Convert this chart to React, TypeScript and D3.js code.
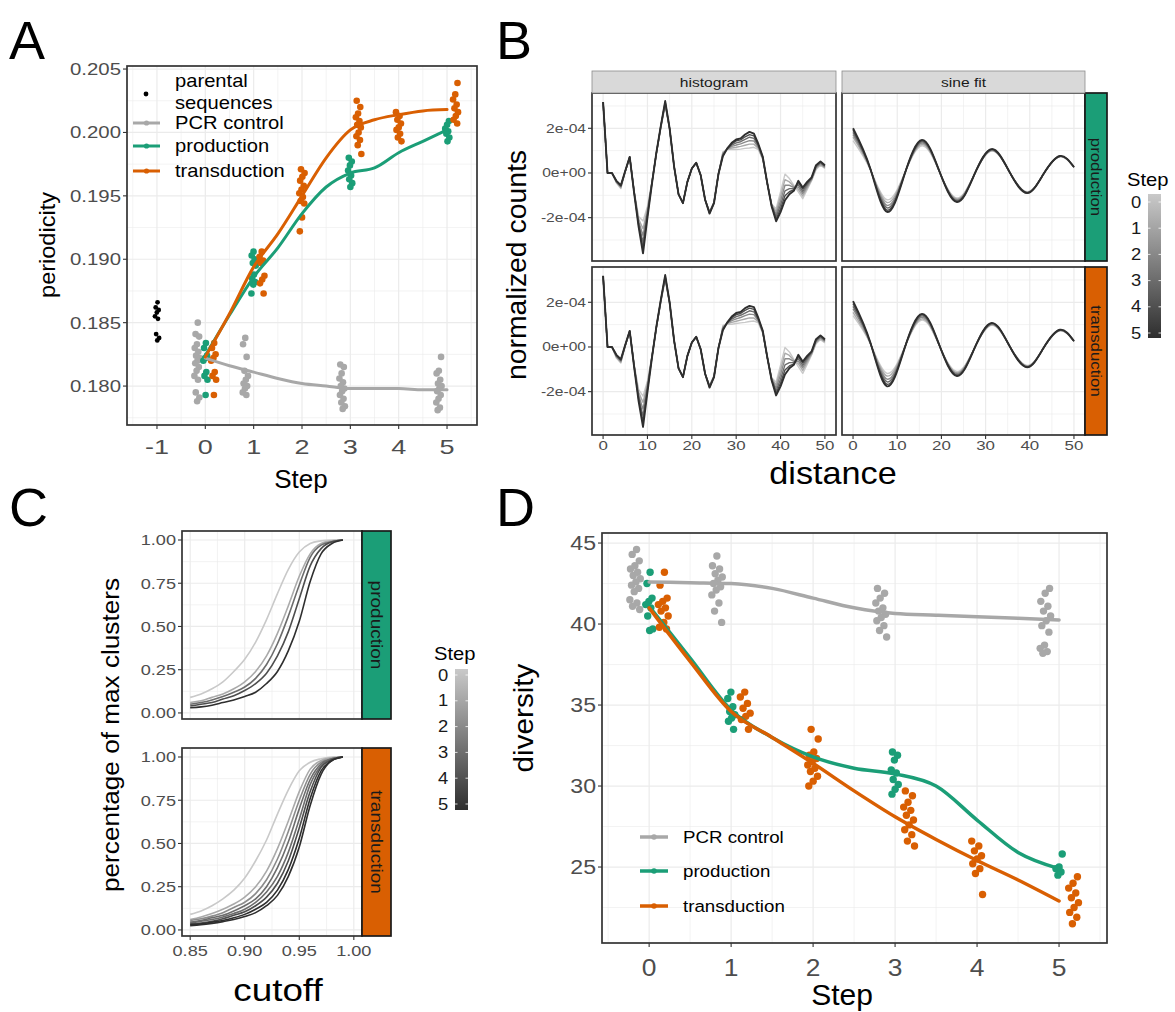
import React, { useEffect, useRef } from "react";
import * as d3 from "d3";

const FONT = "'Liberation Sans', Arial, Helvetica, sans-serif";
const GREEN = "#1b9e77";
const ORANGE = "#d95f02";
const GRAY = "#a8a8a8";
const INK = "#333333";
const TICK = "#4d4d4d";
const GRID = "#ebebeb";

// ---------- A: periodicity ----------
const fitSteps = [0, 0.5, 1, 1.5, 2, 2.5, 3, 3.5, 4, 4.5, 5];
const parentalPeriodicity = [0.1866, 0.1862, 0.186, 0.1858, 0.1855, 0.1853, 0.1841, 0.1838, 0.1836];
const pcrPeriodicity = [
  [0.185, 0.1841, 0.1839, 0.1833, 0.183, 0.1827, 0.1824, 0.1822, 0.182, 0.1818, 0.1815, 0.1812, 0.1808, 0.1805, 0.1795, 0.1791, 0.1788],
  [0.1838, 0.1833, 0.1823, 0.1812, 0.1808, 0.1805, 0.1802, 0.18, 0.1798, 0.1795, 0.1793],
  [],
  [0.1817, 0.1815, 0.181, 0.1806, 0.1803, 0.18, 0.1798, 0.1796, 0.1793, 0.179, 0.1787, 0.1784, 0.1782],
  [],
  [0.1823, 0.1812, 0.181, 0.1805, 0.1802, 0.18, 0.1798, 0.1796, 0.1793, 0.179, 0.1787, 0.1783, 0.1781],
];
const productionPeriodicity = [
  [0.1834, 0.183, 0.1824, 0.1822, 0.182, 0.1811, 0.1808, 0.1805, 0.1793],
  [0.1906, 0.1903, 0.19, 0.1897, 0.1895, 0.1888, 0.1885, 0.1882, 0.188, 0.1873],
  [],
  [0.198, 0.1977, 0.1974, 0.197, 0.1966, 0.1963, 0.196, 0.1957],
  [],
  [0.2009, 0.2006, 0.2003, 0.2001, 0.1999, 0.1996, 0.1993],
];
const transductionPeriodicity = [
  [0.1834, 0.183, 0.1825, 0.1822, 0.182, 0.1811, 0.1808, 0.1805, 0.1793],
  [0.1906, 0.1902, 0.1899, 0.1897, 0.1887, 0.1884, 0.1881, 0.1873],
  [0.1971, 0.1968, 0.1965, 0.1962, 0.1958, 0.1955, 0.1952, 0.1949, 0.1946, 0.1944, 0.1933, 0.1922],
  [0.2025, 0.202, 0.2015, 0.2012, 0.2009, 0.2006, 0.2004, 0.2, 0.1997, 0.1994, 0.199, 0.1983],
  [0.2016, 0.2013, 0.201, 0.2007, 0.2004, 0.2002, 0.1999, 0.1996, 0.1993],
  [0.2039, 0.203, 0.2026, 0.2022, 0.2019, 0.2016, 0.2013, 0.201, 0.2007],
];
const pcrPeriodicityFit = [0.1822, 0.1816, 0.1811, 0.1806, 0.1802, 0.18, 0.1798, 0.1798, 0.1798, 0.1797, 0.1797];
const productionPeriodicityFit = [0.1824, 0.1856, 0.1886, 0.1909, 0.1936, 0.1957, 0.1968, 0.1972, 0.1984, 0.1993, 0.2002];
const transductionPeriodicityFit = [0.1823, 0.1857, 0.1894, 0.192, 0.195, 0.198, 0.2002, 0.201, 0.2014, 0.2017, 0.2018];

// ---------- B: normalized counts (units of 1e-4) ----------
const histogramProduction = [
  [3.18, 0, 0, -0.45, -0.7, 0.05, 0.7, -0.8, -1.95, -2.15, -1.5, -0.4, 0.85, 2.0, 3.02, 1.95, 0.3, -0.95, -1.35, -0.4, 0.2, 0.46, -0.1, -1.2, -1.72, -1.3, -0.05, 0.95, 1.05, 1.05, 1.05, 1.07, 1.1, 1.12, 1.15, 1.05, 0.6, -0.45, -1.4, -1.6, -0.85, -0.05, -0.25, -0.55, -0.85, -1.15, -0.75, -0.35, 0.15, 0.35, 0.2],
  [3.18, 0, 0, -0.42, -0.66, 0.06, 0.7, -0.82, -2.05, -2.5, -1.6, -0.42, 0.86, 2.02, 3.06, 1.96, 0.3, -0.95, -1.35, -0.4, 0.2, 0.46, -0.1, -1.2, -1.74, -1.31, -0.05, 0.9, 1.06, 1.12, 1.15, 1.19, 1.24, 1.29, 1.29, 1.1, 0.62, -0.45, -1.42, -1.72, -1.05, -0.3, -0.4, -0.6, -0.73, -1.03, -0.67, -0.31, 0.2, 0.39, 0.23],
  [3.18, 0, 0, -0.4, -0.62, 0.07, 0.71, -0.84, -2.15, -2.8, -1.7, -0.44, 0.87, 2.05, 3.1, 1.97, 0.3, -0.95, -1.35, -0.4, 0.2, 0.46, -0.1, -1.2, -1.76, -1.32, -0.05, 0.86, 1.08, 1.19, 1.25, 1.3, 1.38, 1.45, 1.43, 1.15, 0.65, -0.45, -1.44, -1.84, -1.25, -0.55, -0.55, -0.65, -0.62, -0.92, -0.6, -0.28, 0.24, 0.43, 0.26],
  [3.18, 0, 0, -0.38, -0.6, 0.08, 0.71, -0.86, -2.25, -3.1, -1.8, -0.46, 0.88, 2.07, 3.14, 1.98, 0.3, -0.95, -1.35, -0.4, 0.2, 0.46, -0.1, -1.2, -1.78, -1.33, -0.05, 0.82, 1.09, 1.25, 1.35, 1.4, 1.5, 1.6, 1.55, 1.2, 0.68, -0.45, -1.46, -1.95, -1.43, -0.8, -0.7, -0.7, -0.52, -0.82, -0.52, -0.25, 0.28, 0.46, 0.29],
  [3.18, 0, 0, -0.36, -0.57, 0.09, 0.72, -0.88, -2.32, -3.35, -1.9, -0.48, 0.89, 2.09, 3.18, 1.99, 0.3, -0.95, -1.35, -0.4, 0.2, 0.46, -0.1, -1.2, -1.8, -1.34, -0.05, 0.78, 1.1, 1.3, 1.44, 1.48, 1.62, 1.72, 1.66, 1.25, 0.7, -0.45, -1.48, -2.06, -1.6, -1.02, -0.84, -0.75, -0.42, -0.72, -0.46, -0.22, 0.32, 0.49, 0.32],
  [3.18, 0, 0, -0.35, -0.55, 0.1, 0.72, -0.9, -2.4, -3.6, -2.0, -0.5, 0.9, 2.1, 3.22, 2.0, 0.3, -0.95, -1.35, -0.4, 0.2, 0.46, -0.1, -1.2, -1.82, -1.35, -0.05, 0.75, 1.1, 1.35, 1.5, 1.55, 1.72, 1.84, 1.76, 1.3, 0.72, -0.45, -1.5, -2.16, -1.75, -1.22, -0.95, -0.8, -0.35, -0.65, -0.4, -0.2, 0.35, 0.52, 0.35],
];
const histogramTransduction = [
  [3.15, 0, 0, -0.5, -0.72, 0.04, 0.68, -0.78, -1.9, -2.2, -1.52, -0.42, 0.83, 1.98, 3.0, 1.93, 0.28, -0.95, -1.33, -0.42, 0.18, 0.44, -0.12, -1.22, -1.7, -1.28, -0.06, 0.96, 1.02, 1.02, 1.05, 1.08, 1.1, 1.14, 1.16, 1.08, 0.62, -0.44, -1.38, -1.58, -0.82, -0.02, -0.22, -0.55, -0.88, -1.18, -0.78, -0.36, 0.14, 0.33, 0.18],
  [3.16, 0, 0, -0.46, -0.68, 0.05, 0.69, -0.81, -2.02, -2.48, -1.62, -0.43, 0.85, 2.01, 3.05, 1.95, 0.29, -0.95, -1.34, -0.41, 0.19, 0.45, -0.11, -1.21, -1.73, -1.3, -0.05, 0.9, 1.05, 1.1, 1.15, 1.2, 1.25, 1.3, 1.3, 1.12, 0.63, -0.45, -1.41, -1.7, -1.03, -0.28, -0.38, -0.6, -0.75, -1.05, -0.68, -0.32, 0.19, 0.38, 0.22],
  [3.17, 0, 0, -0.43, -0.64, 0.06, 0.7, -0.84, -2.14, -2.78, -1.72, -0.45, 0.86, 2.04, 3.09, 1.96, 0.3, -0.95, -1.35, -0.4, 0.2, 0.46, -0.1, -1.2, -1.76, -1.32, -0.05, 0.86, 1.07, 1.18, 1.26, 1.32, 1.4, 1.47, 1.45, 1.17, 0.66, -0.45, -1.43, -1.83, -1.24, -0.53, -0.53, -0.64, -0.63, -0.93, -0.6, -0.28, 0.24, 0.42, 0.26],
  [3.18, 0, 0, -0.4, -0.61, 0.08, 0.71, -0.86, -2.24, -3.08, -1.82, -0.47, 0.88, 2.07, 3.13, 1.98, 0.3, -0.95, -1.35, -0.4, 0.2, 0.46, -0.1, -1.2, -1.78, -1.33, -0.05, 0.82, 1.09, 1.25, 1.36, 1.42, 1.52, 1.62, 1.57, 1.21, 0.68, -0.45, -1.46, -1.96, -1.44, -0.8, -0.7, -0.7, -0.52, -0.82, -0.52, -0.25, 0.28, 0.46, 0.29],
  [3.18, 0, 0, -0.37, -0.58, 0.09, 0.72, -0.88, -2.32, -3.34, -1.92, -0.49, 0.89, 2.09, 3.18, 1.99, 0.3, -0.95, -1.35, -0.4, 0.2, 0.46, -0.1, -1.2, -1.8, -1.34, -0.05, 0.78, 1.1, 1.31, 1.45, 1.5, 1.64, 1.74, 1.68, 1.26, 0.7, -0.45, -1.48, -2.07, -1.61, -1.03, -0.85, -0.76, -0.42, -0.72, -0.46, -0.22, 0.32, 0.49, 0.32],
  [3.19, 0, 0, -0.35, -0.55, 0.1, 0.72, -0.9, -2.42, -3.58, -2.02, -0.5, 0.9, 2.1, 3.22, 2.0, 0.3, -0.95, -1.35, -0.4, 0.2, 0.46, -0.1, -1.2, -1.82, -1.35, -0.05, 0.75, 1.1, 1.36, 1.52, 1.57, 1.74, 1.84, 1.78, 1.3, 0.72, -0.45, -1.5, -2.17, -1.76, -1.23, -0.95, -0.8, -0.35, -0.65, -0.4, -0.2, 0.35, 0.52, 0.35],
];
const sineKnots = [0, 3.9, 7.7, 11.6, 15.6, 19.5, 23.5, 27.4, 31.4, 35.4, 39.4, 43.1, 46.8, 50];
const sineProduction = [
  [1.45, 0.15, -1.2, -0.05, 1.22, 0.08, -1.12, -0.08, 0.98, 0.05, -0.84, -0.05, 0.72, 0.24],
  [1.6, 0.17, -1.32, -0.06, 1.28, 0.08, -1.16, -0.08, 1.0, 0.05, -0.86, -0.05, 0.73, 0.25],
  [1.72, 0.18, -1.45, -0.07, 1.34, 0.09, -1.2, -0.09, 1.02, 0.05, -0.87, -0.05, 0.74, 0.25],
  [1.82, 0.19, -1.56, -0.08, 1.4, 0.09, -1.24, -0.09, 1.04, 0.05, -0.88, -0.05, 0.75, 0.26],
  [1.92, 0.2, -1.66, -0.09, 1.44, 0.1, -1.27, -0.1, 1.06, 0.05, -0.89, -0.05, 0.75, 0.26],
  [2.0, 0.2, -1.74, -0.1, 1.48, 0.1, -1.3, -0.1, 1.07, 0.05, -0.9, -0.05, 0.76, 0.27],
];
const sineTransduction = [
  [1.4, 0.15, -1.18, -0.05, 1.2, 0.08, -1.1, -0.08, 0.97, 0.05, -0.83, -0.05, 0.72, 0.24],
  [1.55, 0.16, -1.3, -0.06, 1.26, 0.08, -1.15, -0.08, 0.99, 0.05, -0.85, -0.05, 0.73, 0.25],
  [1.7, 0.18, -1.44, -0.07, 1.33, 0.09, -1.19, -0.09, 1.02, 0.05, -0.87, -0.05, 0.74, 0.25],
  [1.82, 0.19, -1.56, -0.08, 1.39, 0.09, -1.23, -0.09, 1.04, 0.05, -0.88, -0.05, 0.75, 0.26],
  [1.94, 0.2, -1.67, -0.09, 1.44, 0.1, -1.27, -0.1, 1.06, 0.05, -0.9, -0.05, 0.76, 0.26],
  [2.05, 0.21, -1.76, -0.1, 1.48, 0.1, -1.3, -0.1, 1.08, 0.05, -0.91, -0.05, 0.77, 0.27],
];

// ---------- C: percentage of max clusters ----------
const cutoffs = [0.85, 0.86, 0.87, 0.88, 0.89, 0.9, 0.91, 0.92, 0.93, 0.94, 0.95, 0.96, 0.97, 0.98, 0.99];
const clusterProductionSteps = [0, 1, 3, 4, 5];
const clusterProduction = [
  [0.09, 0.11, 0.14, 0.18, 0.24, 0.31, 0.41, 0.54, 0.69, 0.83, 0.93, 0.98, 0.995, 1.0, 1.0],
  [0.06, 0.07, 0.09, 0.11, 0.14, 0.18, 0.24, 0.33, 0.46, 0.62, 0.79, 0.92, 0.98, 0.995, 1.0],
  [0.05, 0.06, 0.075, 0.095, 0.12, 0.15, 0.2, 0.28, 0.4, 0.56, 0.74, 0.9, 0.97, 0.99, 1.0],
  [0.04, 0.05, 0.06, 0.08, 0.1, 0.13, 0.17, 0.23, 0.33, 0.47, 0.66, 0.85, 0.95, 0.99, 1.0],
  [0.03, 0.035, 0.045, 0.06, 0.075, 0.095, 0.12, 0.17, 0.24, 0.36, 0.53, 0.76, 0.92, 0.98, 1.0],
];
const clusterTransductionSteps = [0, 1, 2, 3, 3, 4, 5, 5];
const clusterTransduction = [
  [0.09, 0.11, 0.14, 0.18, 0.23, 0.3, 0.4, 0.52, 0.67, 0.81, 0.92, 0.97, 0.99, 1.0, 1.0],
  [0.06, 0.075, 0.095, 0.12, 0.15, 0.19, 0.25, 0.34, 0.47, 0.63, 0.8, 0.93, 0.98, 0.995, 1.0],
  [0.055, 0.065, 0.08, 0.1, 0.13, 0.16, 0.21, 0.29, 0.41, 0.57, 0.75, 0.9, 0.97, 0.99, 1.0],
  [0.045, 0.055, 0.07, 0.085, 0.11, 0.14, 0.18, 0.25, 0.36, 0.51, 0.7, 0.87, 0.96, 0.99, 1.0],
  [0.04, 0.05, 0.06, 0.075, 0.095, 0.12, 0.16, 0.22, 0.31, 0.45, 0.64, 0.84, 0.95, 0.99, 1.0],
  [0.035, 0.04, 0.05, 0.065, 0.085, 0.105, 0.14, 0.19, 0.27, 0.4, 0.59, 0.8, 0.94, 0.985, 1.0],
  [0.03, 0.035, 0.045, 0.055, 0.07, 0.09, 0.12, 0.16, 0.23, 0.35, 0.53, 0.76, 0.92, 0.98, 1.0],
  [0.025, 0.03, 0.038, 0.048, 0.06, 0.078, 0.1, 0.14, 0.2, 0.31, 0.48, 0.72, 0.9, 0.98, 1.0],
];

// ---------- D: diversity ----------
const pcrDiversity = [
  [44.6, 44.3, 43.9, 43.6, 43.4, 43.2, 43.0, 42.8, 42.6, 42.4, 42.2, 42.0, 41.5, 41.3, 41.1, 40.9],
  [44.2, 43.6, 43.4, 43.1, 42.9, 42.7, 42.5, 42.3, 42.1, 41.8, 41.3, 40.8, 40.1],
  [],
  [42.2, 41.9, 41.6, 41.3, 41.0, 40.8, 40.6, 40.4, 40.2, 39.9, 39.6, 39.2],
  [],
  [42.2, 41.9, 41.4, 41.1, 40.8, 40.5, 40.2, 39.9, 39.5, 38.7, 38.5, 38.3, 38.2],
];
const productionDiversity = [
  [43.2, 42.5, 41.6, 41.4, 41.2, 41.0, 40.5, 39.7, 39.6],
  [35.8, 35.4, 34.9, 34.6, 34.4, 34.2, 34.0, 33.5],
  [],
  [32.1, 31.9, 31.6, 31.0, 30.8, 30.4, 30.1, 29.8, 29.5],
  [],
  [25.8, 25.0, 24.9, 24.7, 24.5],
];
const transductionDiversity = [
  [43.2, 42.4, 41.6, 41.4, 41.2, 41.0, 40.8, 40.5, 40.1, 39.8, 39.7],
  [35.8, 35.5, 35.1, 34.8, 34.5, 34.3, 34.1, 33.5],
  [33.5, 32.9, 32.1, 31.9, 31.7, 31.5, 31.3, 31.1, 30.9, 30.6, 30.3, 30.0],
  [29.7, 29.4, 29.0, 28.7, 28.5, 28.2, 27.9, 27.6, 27.3, 27.0, 26.6, 26.3],
  [26.6, 26.3, 26.0, 25.7, 25.5, 25.2, 24.9, 24.6, 23.3],
  [24.4, 24.0, 23.7, 23.4, 23.1, 22.8, 22.5, 22.2, 21.9, 21.5],
];
const pcrDiversityFit = [42.6, 42.55, 42.5, 42.2, 41.6, 41.0, 40.65, 40.55, 40.45, 40.35, 40.25];
const productionDiversityFit = [41.1, 37.9, 34.7, 33.0, 31.8, 31.1, 30.75, 30.0, 27.9, 25.9, 24.9];
const transductionDiversityFit = [41.0, 37.7, 34.6, 33.0, 31.4, 29.7, 28.1, 26.7, 25.4, 24.2, 22.9];

const groupNames = ["PCR control", "production", "transduction"];
const stepLabels = [0, 1, 2, 3, 4, 5];

type G = d3.Selection<any, unknown, null, undefined>;
type L = d3.ScaleLinear<number, number>;

const stepColor = d3.scaleLinear<string>().domain([0, 5]).range(["#c9c9c9", "#2e2e2e"]);
const jitter = (i: number, amp: number) => ((((i + 1) * 0.6180339) % 1) - 0.5) * 2 * amp;

function label(g: G, x: number, y: number, s: string, size: number, o: any = {}) {
  g.append("text")
    .attr("transform", `translate(${x},${y}) rotate(${o.rotate ?? 0}) scale(${o.sx ?? 1},1)`)
    .attr("text-anchor", o.anchor ?? "start")
    .attr("dominant-baseline", o.base ?? "alphabetic")
    .attr("font-size", size)
    .attr("fill", o.fill ?? "#000")
    .text(s);
}

function frame(g: G, x: L, y: L, xMajor: number[], xMinor: number[], yMajor: number[], yMinor: number[]) {
  const [x0, x1] = x.range();
  const [yb, yt] = y.range();
  g.append("rect").attr("x", x0).attr("y", yt).attr("width", x1 - x0).attr("height", yb - yt).attr("fill", "#fff");
  const grid = g.append("g").attr("stroke", GRID);
  xMinor.forEach(v => grid.append("line").attr("x1", x(v)).attr("x2", x(v)).attr("y1", yt).attr("y2", yb).attr("stroke-width", 0.6));
  yMinor.forEach(v => grid.append("line").attr("x1", x0).attr("x2", x1).attr("y1", y(v)).attr("y2", y(v)).attr("stroke-width", 0.6));
  xMajor.forEach(v => grid.append("line").attr("x1", x(v)).attr("x2", x(v)).attr("y1", yt).attr("y2", yb).attr("stroke-width", 1.2));
  yMajor.forEach(v => grid.append("line").attr("x1", x0).attr("x2", x1).attr("y1", y(v)).attr("y2", y(v)).attr("stroke-width", 1.2));
}

function border(g: G, x: L, y: L) {
  const [x0, x1] = x.range();
  const [yb, yt] = y.range();
  g.append("rect").attr("x", x0).attr("y", yt).attr("width", x1 - x0).attr("height", yb - yt)
    .attr("fill", "none").attr("stroke", INK).attr("stroke-width", 1.7);
}

function yAxis(g: G, y: L, x0: number, values: number[], fmt: (v: number) => string, size: number, sx = 1) {
  values.forEach(v => {
    g.append("line").attr("x1", x0 - 4).attr("x2", x0).attr("y1", y(v)).attr("y2", y(v)).attr("stroke", INK).attr("stroke-width", 1.1);
    label(g, x0 - 6, y(v), fmt(v), size, { anchor: "end", base: "central", fill: TICK, sx });
  });
}

function xAxis(g: G, x: L, yb: number, values: number[], fmt: (v: number) => string, size: number, base: number, sx = 1) {
  values.forEach(v => {
    g.append("line").attr("x1", x(v)).attr("x2", x(v)).attr("y1", yb).attr("y2", yb + 4).attr("stroke", INK).attr("stroke-width", 1.1);
    label(g, x(v), base, fmt(v), size, { anchor: "middle", fill: TICK, sx });
  });
}

function dots(g: G, x: L, y: L, values: number[][], offset: (s: number) => number, color: string, r: number, amp: number) {
  values.forEach((vals, step) => {
    vals.forEach((v, i) => {
      g.append("circle").attr("cx", x(step + offset(step) + jitter(i + step * 3, amp))).attr("cy", y(v)).attr("r", r).attr("fill", color);
    });
  });
}

function fitLine(g: G, x: L, y: L, values: number[], color: string, width: number) {
  const line = d3.line<number>().x((_, i) => x(fitSteps[i])).y(v => y(v)).curve(d3.curveMonotoneX);
  g.append("path").attr("d", line(values)).attr("fill", "none").attr("stroke", color).attr("stroke-width", width).attr("stroke-linecap", "round");
}

function colorbar(g: G, id: string, x0: number, top: number, bottom: number, labelX: number, titleX: number, titleY: number, l0: number, l5: number) {
  const grad = g.append("defs").append("linearGradient").attr("id", id).attr("x1", 0).attr("x2", 0).attr("y1", 0).attr("y2", 1);
  grad.append("stop").attr("offset", "0%").attr("stop-color", stepColor(0));
  grad.append("stop").attr("offset", "100%").attr("stop-color", stepColor(5));
  g.append("rect").attr("x", x0).attr("y", top).attr("width", 13).attr("height", bottom - top).attr("fill", `url(#${id})`);
  const ly = d3.scaleLinear().domain([0, 5]).range([l0, l5]);
  stepLabels.forEach(s => {
    g.append("line").attr("x1", x0).attr("x2", x0 + 2.5).attr("y1", ly(s)).attr("y2", ly(s)).attr("stroke", "#fff").attr("stroke-width", 0.8);
    g.append("line").attr("x1", x0 + 10.5).attr("x2", x0 + 13).attr("y1", ly(s)).attr("y2", ly(s)).attr("stroke", "#fff").attr("stroke-width", 0.8);
    label(g, labelX, ly(s), String(s), 16, { anchor: "middle", base: "central", fill: "#1a1a1a", sx: 1.15 });
  });
  label(g, titleX, titleY, "Step", 18, { sx: 1.12 });
}

function drawA(svg: G) {
  const g = svg.append("g");
  const x = d3.scaleLinear().domain([-1.62, 5.62]).range([127, 477]);
  const y = d3.scaleLinear().domain([0.17693, 0.20524]).range([425, 66]);
  frame(g, x, y, [-1, 0, 1, 2, 3, 4, 5], [-1.5, -0.5, 0.5, 1.5, 2.5, 3.5, 4.5, 5.5],
    [0.18, 0.185, 0.19, 0.195, 0.2, 0.205], [0.1775, 0.1825, 0.1875, 0.1925, 0.1975, 0.2025]);
  parentalPeriodicity.forEach((v, i) => g.append("circle").attr("cx", x(-1 + jitter(i, 0.05))).attr("cy", y(v)).attr("r", 2.4).attr("fill", "#000"));
  const prodSteps = productionPeriodicity.map(a => a.length > 0);
  dots(g, x, y, pcrPeriodicity, () => -0.17, GRAY, 3.3, 0.06);
  dots(g, x, y, productionPeriodicity, () => 0, GREEN, 3.3, 0.05);
  dots(g, x, y, transductionPeriodicity, s => (prodSteps[s] ? 0.17 : 0), ORANGE, 3.3, 0.06);
  fitLine(g, x, y, pcrPeriodicityFit, GRAY, 3);
  fitLine(g, x, y, productionPeriodicityFit, GREEN, 3);
  fitLine(g, x, y, transductionPeriodicityFit, ORANGE, 3);
  border(g, x, y);
  yAxis(g, y, 127, [0.18, 0.185, 0.19, 0.195, 0.2, 0.205], d3.format(".3f"), 17, 1.2);
  xAxis(g, x, 425, [-1, 0, 1, 2, 3, 4, 5], d => String(d), 20, 454, 1.35);
  label(g, 47, 245, "periodicity", 22, { anchor: "middle", base: "central", rotate: -90, sx: 1.07 });
  label(g, 301, 488, "Step", 26, { anchor: "middle" });
  // legend
  g.append("circle").attr("cx", 146).attr("cy", 94).attr("r", 2.4).attr("fill", "#000");
  label(g, 175, 81, "parental", 18, { base: "central", sx: 1.12 });
  label(g, 175, 103, "sequences", 18, { base: "central", sx: 1.12 });
  [GRAY, GREEN, ORANGE].forEach((c, i) => {
    const ly = [123, 146, 171][i];
    g.append("line").attr("x1", 133).attr("x2", 160).attr("y1", ly).attr("y2", ly).attr("stroke", c).attr("stroke-width", 3);
    g.append("circle").attr("cx", 146.5).attr("cy", ly).attr("r", 2.6).attr("fill", c);
    label(g, 175, ly, groupNames[i], 18, { base: "central", sx: 1.12 });
  });
  label(g, 9, 59, "A", 54);
}

function drawB(svg: G) {
  const g = svg.append("g");
  const distances = d3.range(51);
  const cols = [
    { name: "histogram", x: d3.scaleLinear().domain([-2.5, 52.5]).range([592, 836]) },
    { name: "sine fit", x: d3.scaleLinear().domain([-2.5, 52.5]).range([842, 1085]) },
  ];
  const rows = [
    { name: "production", color: GREEN, y: d3.scaleLinear().domain([-3.94, 3.58]).range([261, 93]), hist: histogramProduction, sine: sineProduction },
    { name: "transduction", color: ORANGE, y: d3.scaleLinear().domain([-3.94, 3.58]).range([435, 267]), hist: histogramTransduction, sine: sineTransduction },
  ];
  rows.forEach(row => {
    cols.forEach((col, ci) => {
      const x = col.x, y = row.y;
      frame(g, x, y, [0, 10, 20, 30, 40, 50], [5, 15, 25, 35, 45], [-2, 0, 2], [-3, -1, 1, 3]);
      if (ci === 0) {
        const line = d3.line<number>().x((_, i) => x(distances[i])).y(v => y(v)).curve(d3.curveLinear);
        row.hist.forEach((vals, s) => g.append("path").attr("d", line(vals)).attr("fill", "none").attr("stroke", stepColor(s)).attr("stroke-width", s === 5 ? 1.9 : 1.4).attr("stroke-linejoin", "round"));
      } else {
        const line = d3.line<number>().x((_, i) => x(sineKnots[i])).y(v => y(v)).curve(d3.curveNatural);
        row.sine.forEach((vals, s) => g.append("path").attr("d", line(vals)).attr("fill", "none").attr("stroke", stepColor(s)).attr("stroke-width", s === 5 ? 1.9 : 1.4));
      }
      border(g, x, y);
    });
    const [yb, yt] = row.y.range();
    g.append("rect").attr("x", 1085).attr("y", yt).attr("width", 22).attr("height", yb - yt).attr("fill", row.color).attr("stroke", "#1a1a1a").attr("stroke-width", 1.7);
    label(g, 1096, (yb + yt) / 2, row.name, 14, { anchor: "middle", base: "central", rotate: 90, fill: "#1a1a1a", sx: 1.2 });
    yAxis(g, row.y, 592, [-2, 0, 2], v => (v === 0 ? "0e+00" : `${v}e-04`), 12.5, 1.25);
  });
  cols.forEach(col => {
    const [x0, x1] = col.x.range();
    g.append("rect").attr("x", x0).attr("y", 71).attr("width", x1 - x0).attr("height", 22).attr("fill", "#d9d9d9").attr("stroke", "#8c8c8c").attr("stroke-width", 0.8);
    label(g, (x0 + x1) / 2, 82, col.name, 13, { anchor: "middle", base: "central", fill: "#1a1a1a", sx: 1.2 });
    xAxis(g, col.x, 435, [0, 10, 20, 30, 40, 50], d => String(d), 13, 450, 1.3);
  });
  label(g, 517, 265, "normalized counts", 27, { anchor: "middle", base: "central", rotate: -90, sx: 1.05 });
  label(g, 833, 484, "distance", 32, { anchor: "middle", sx: 1.07 });
  colorbar(g, "stepB", 1148, 194, 338, 1136, 1127, 186, 202, 333);
  label(g, 496, 59, "B", 54);
}

function drawC(svg: G) {
  const g = svg.append("g");
  const x = d3.scaleLinear().domain([0.8425, 1.0075]).range([182, 362]);
  const rows = [
    { name: "production", color: GREEN, y: d3.scaleLinear().domain([-0.035, 1.052]).range([719, 531]), vals: clusterProduction, steps: clusterProductionSteps },
    { name: "transduction", color: ORANGE, y: d3.scaleLinear().domain([-0.035, 1.052]).range([936, 748]), vals: clusterTransduction, steps: clusterTransductionSteps },
  ];
  rows.forEach(row => {
    const y = row.y;
    frame(g, x, y, [0.85, 0.9, 0.95, 1.0], [0.875, 0.925, 0.975], [0, 0.25, 0.5, 0.75, 1], [0.125, 0.375, 0.625, 0.875]);
    const line = d3.line<number>().x((_, i) => x(cutoffs[i])).y(v => y(v)).curve(d3.curveMonotoneX);
    row.vals.forEach((vals, k) => g.append("path").attr("d", line(vals)).attr("fill", "none").attr("stroke", stepColor(row.steps[k])).attr("stroke-width", 1.6));
    border(g, x, y);
    const [yb, yt] = y.range();
    g.append("rect").attr("x", 362).attr("y", yt).attr("width", 29).attr("height", yb - yt).attr("fill", row.color).attr("stroke", "#1a1a1a").attr("stroke-width", 1.7);
    label(g, 376.5, (yb + yt) / 2, row.name, 17, { anchor: "middle", base: "central", rotate: 90, fill: "#1a1a1a", sx: 1.12 });
    yAxis(g, y, 182, [0, 0.25, 0.5, 0.75, 1], d3.format(".2f"), 14.5, 1.25);
  });
  xAxis(g, x, 936, [0.85, 0.9, 0.95, 1.0], d3.format(".2f"), 14.5, 956, 1.25);
  label(g, 110, 735, "percentage of max clusters", 24, { anchor: "middle", base: "central", rotate: -90, sx: 1.09 });
  label(g, 278, 1001, "cutoff", 32, { anchor: "middle", sx: 1.15 });
  colorbar(g, "stepC", 455, 669, 810, 443, 434, 660, 675, 804);
  label(g, 9, 526, "C", 54);
}

function drawD(svg: G) {
  const g = svg.append("g");
  const x = d3.scaleLinear().domain([-0.575, 5.585]).range([602, 1107]);
  const y = d3.scaleLinear().domain([20.31, 45.62]).range([943, 533]);
  frame(g, x, y, [0, 1, 2, 3, 4, 5], [-0.5, 0.5, 1.5, 2.5, 3.5, 4.5, 5.5], [25, 30, 35, 40, 45], [22.5, 27.5, 32.5, 37.5, 42.5]);
  const prodSteps = productionDiversity.map(a => a.length > 0);
  dots(g, x, y, pcrDiversity, () => -0.17, GRAY, 3.7, 0.07);
  dots(g, x, y, productionDiversity, () => 0, GREEN, 3.7, 0.05);
  dots(g, x, y, transductionDiversity, s => (prodSteps[s] ? 0.17 : 0), ORANGE, 3.7, 0.07);
  fitLine(g, x, y, pcrDiversityFit, GRAY, 3.5);
  fitLine(g, x, y, productionDiversityFit, GREEN, 3.5);
  fitLine(g, x, y, transductionDiversityFit, ORANGE, 3.5);
  border(g, x, y);
  yAxis(g, y, 602, [25, 30, 35, 40, 45], d => String(d), 21, 1.1);
  xAxis(g, x, 943, [0, 1, 2, 3, 4, 5], d => String(d), 24, 976, 1.1);
  label(g, 523, 718, "diversity", 27, { anchor: "middle", base: "central", rotate: -90, sx: 1.1 });
  label(g, 842, 1005, "Step", 30, { anchor: "middle" });
  [GRAY, GREEN, ORANGE].forEach((c, i) => {
    const ly = [837, 871, 906][i];
    g.append("line").attr("x1", 640).attr("x2", 668).attr("y1", ly).attr("y2", ly).attr("stroke", c).attr("stroke-width", 3.5);
    g.append("circle").attr("cx", 654).attr("cy", ly).attr("r", 2.8).attr("fill", c);
    label(g, 683, ly, groupNames[i], 17, { base: "central", sx: 1.1 });
  });
  label(g, 496, 526, "D", 54);
}

export default function App() {
  const ref = useRef<SVGSVGElement>(null);
  useEffect(() => {
    const svg = d3.select(ref.current) as G;
    svg.selectAll("*").remove();
    svg.append("rect").attr("width", 1175).attr("height", 1012).attr("fill", "#fff");
    drawA(svg);
    drawB(svg);
    drawC(svg);
    drawD(svg);
  }, []);
  return (
    <svg ref={ref} width={1175} height={1012}
      style={{ position: "absolute", left: 0, top: 0, fontFamily: FONT, display: "block" }} />
  );
}
